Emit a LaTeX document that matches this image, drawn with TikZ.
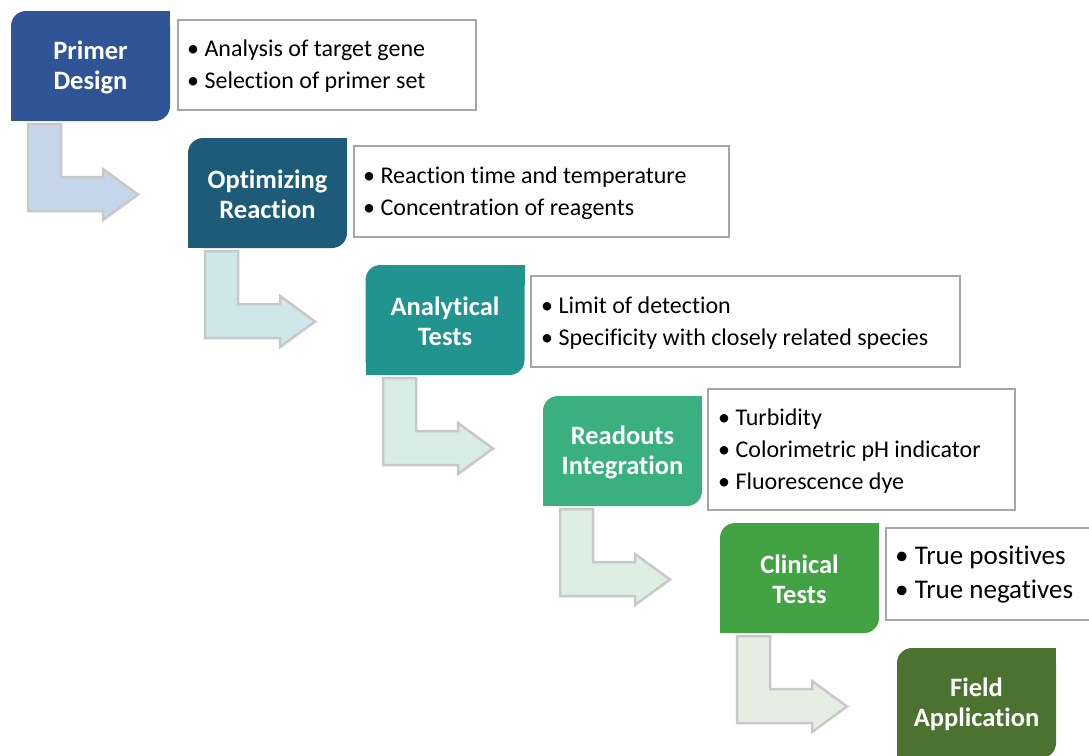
\documentclass[tikz,border=0pt]{standalone}
\usepackage{fontspec}
\setmainfont{Carlito}[Ligatures=CommonOff]
\definecolor{cA}{HTML}{2F5597}
\definecolor{cB}{HTML}{1E5B78}
\definecolor{cC}{HTML}{22948F}
\definecolor{cD}{HTML}{3AB07F}
\definecolor{cE}{HTML}{43A244}
\definecolor{cF}{HTML}{4C7230}
\definecolor{aA}{HTML}{C5D5EA}
\definecolor{aB}{HTML}{CFE6EA}
\definecolor{aC}{HTML}{D6ECE5}
\definecolor{aD}{HTML}{DDEEE3}
\definecolor{aE}{HTML}{E6EEE4}
\definecolor{arrowedge}{HTML}{C8C8C8}
\definecolor{infoedge}{HTML}{A6A6A6}
\newcommand{\StepBox}[5]{%
  \fill[#4, rounded corners=15pt] (#2-79.5,#3-55) rectangle (#2+79.5,#3+55);
  \fill[#4] (#2+79.5,#3-55) rectangle (#2+59.5,#3-35);
  \fill[#4] (#2-79.5,#3+55) rectangle (#2-59.5,#3+35);
  \node[hdr] (#1) at (#2,#3+1) {#5};}
\newcommand{\BentArrow}[3]{%
  \begin{scope}[shift={(#1,#2)}]
    \draw[bentarrow, fill=#3] (17,3) -- (50,3) -- (50,56) -- (92,56) -- (92,48)
      -- (127,73.5) -- (92,99) -- (92,90) -- (17,90) -- cycle;
  \end{scope}}
\begin{document}
\begin{tikzpicture}[x=1pt,y=-1pt,
  hdr/.style={text=white, font=\fontsize{26.5}{30}\selectfont\bfseries, align=center, inner sep=0pt},
  bentarrow/.style={draw=arrowedge, line width=2.5pt, line join=miter},
  infobox/.style={draw=infoedge, line width=1.3pt, fill=white},
  infotext/.style={anchor=west, align=left, inner sep=0pt, font=\fontsize{24}{32}\selectfont}]
\clip (0,0) rectangle (1089,755);
\fill[white] (0,0) rectangle (1089,755);
% arrows
\BentArrow{11}{121}{aA}
\BentArrow{188}{248}{aB}
\BentArrow{366}{375}{aC}
\BentArrow{543}{506}{aD}
\BentArrow{720}{633}{aE}
% step boxes
\StepBox{b1}{90.5}{66}{cA}{Primer\\Design}
\StepBox{b2}{267.5}{193}{cB}{Optimizing\\Reaction}
\StepBox{b3}{445}{320}{cC}{Analytical\\Tests}
\StepBox{b4}{622.5}{451}{cD}{Readouts\\Integration}
\StepBox{b5}{799.5}{578}{cE}{Clinical\\Tests}
\StepBox{b6}{976.5}{703}{cF}{Field\\Application}
% info boxes
\draw[infobox] (178,20) rectangle (476,110);
\node[infotext] (t1) at (187,66.5) {• Analysis of target gene\\• Selection of primer set};
\draw[infobox] (354,146) rectangle (729,237);
\node[infotext] (t2) at (363,193) {• Reaction time and temperature\\• Concentration of reagents};
\draw[infobox] (531,276) rectangle (960,367);
\node[infotext] (t3) at (541,323) {• Limit of detection\\• Specificity with closely related species};
\draw[infobox] (708,389) rectangle (1015,510);
\node[infotext] (t4) at (718,451) {• Turbidity\\• Colorimetric pH indicator\\• Fluorescence dye};
\draw[infobox] (886,528) rectangle (1100,620);
\node[infotext, font=\fontsize{27}{34}\selectfont] (t5) at (895,574.5) {• True positives\\• True negatives};
\end{tikzpicture}
\end{document}
